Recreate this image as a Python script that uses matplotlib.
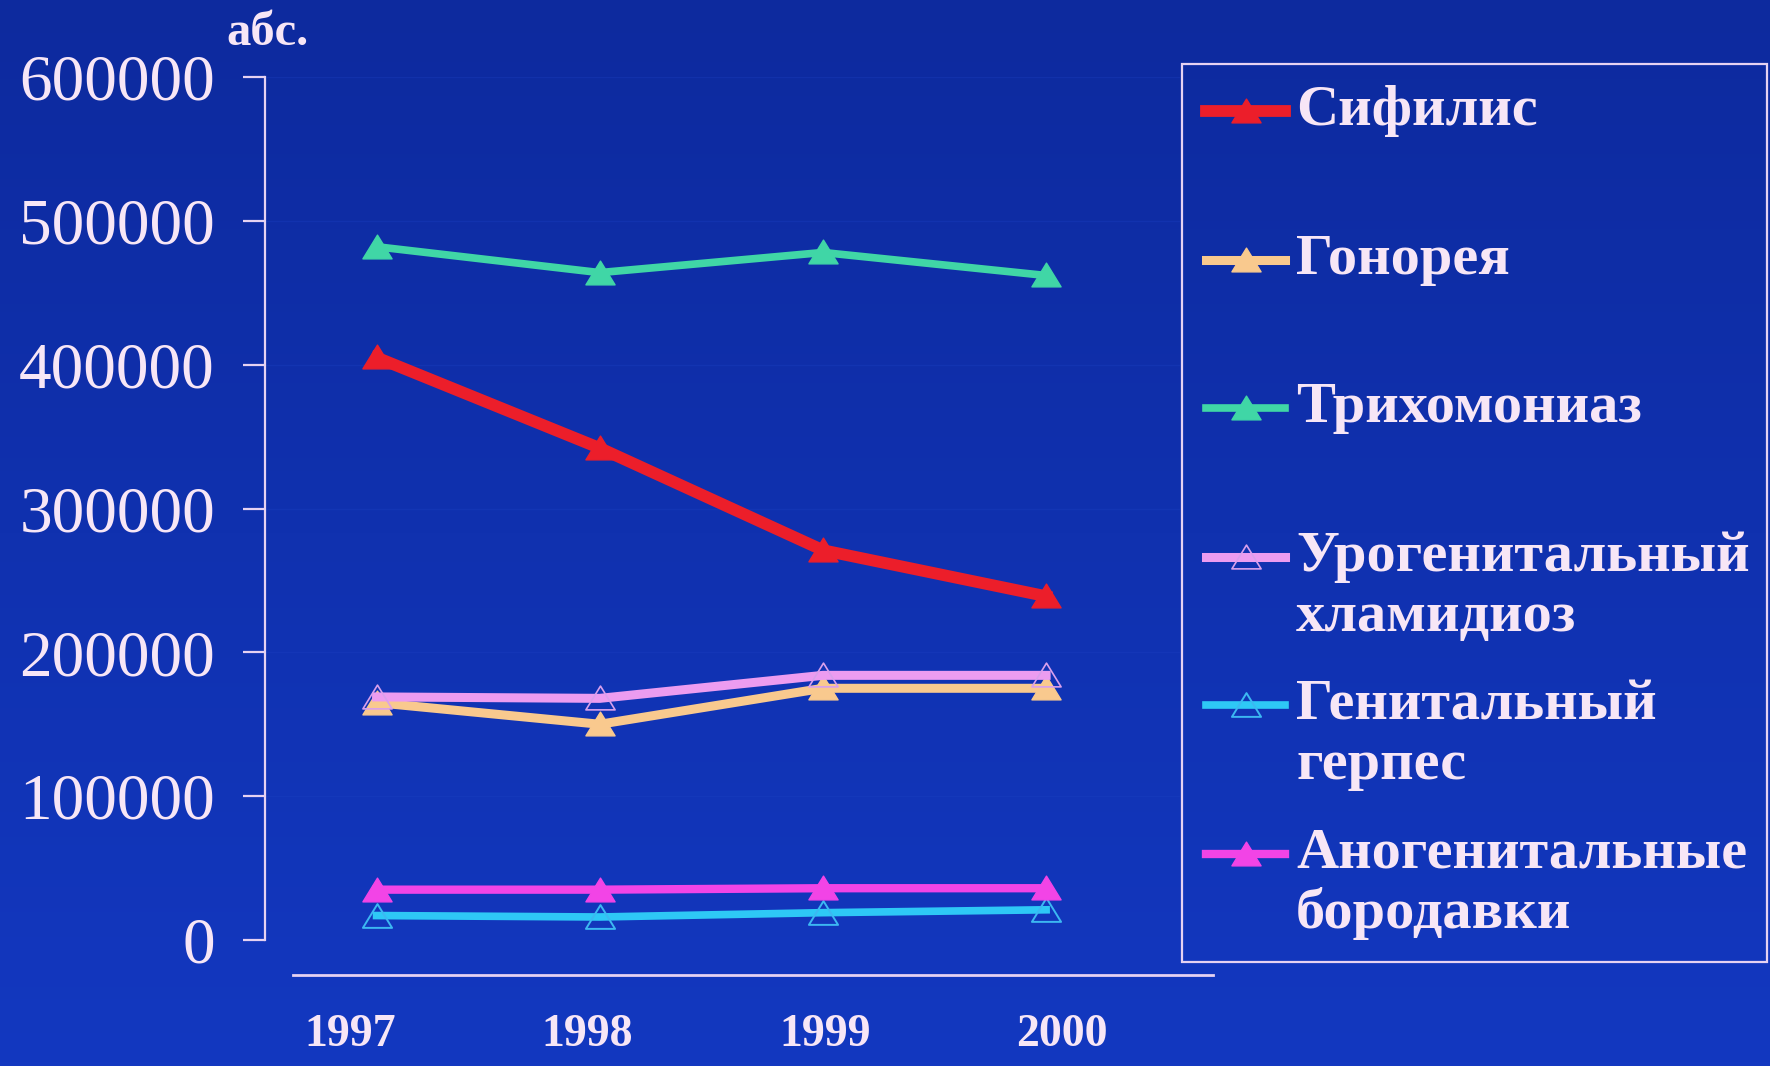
import numpy as np
import matplotlib
matplotlib.use("Agg")
import matplotlib.pyplot as plt
from matplotlib.colors import LinearSegmentedColormap
from matplotlib.lines import Line2D
from matplotlib.patches import Rectangle
from matplotlib.path import Path

# --- data -------------------------------------------------------------
years = [1997, 1998, 1999, 2000]
series_names = [
    "Сифилис",
    "Гонорея",
    "Трихомониаз",
    "Урогенитальный\nхламидиоз",
    "Генитальный\nгерпес",
    "Аногенитальные\nбородавки",
]
syphilis = [405000, 342000, 271000, 239000]
gonorrhea = [165000, 150000, 175000, 175000]
trichomoniasis = [482000, 464000, 478000, 462000]
chlamydia = [169000, 168000, 184000, 184000]
herpes = [17000, 16000, 19000, 21000]
warts = [35000, 35000, 36000, 36000]
y_ticks = [0, 100000, 200000, 300000, 400000, 500000, 600000]
y_unit = "абс."

# --- styles -----------------------------------------------------------
W, H = 1770, 1066
TXT = "#F7E6F6"
AXC = "#E6D2F2"
SERIF = ["Liberation Serif", "DejaVu Serif"]

# slightly flattened triangle, closed so open markers draw a full outline
tri = Path([(-1.0, -0.78), (1.0, -0.78), (0.0, 0.85), (-1.0, -0.78)],
           [Path.MOVETO, Path.LINETO, Path.LINETO, Path.CLOSEPOLY])
styles = [
    dict(color="#EC1E2A", lw=8.5, mfc="#EC1E2A", mec="#EC1E2A", ms=21),
    dict(color="#F9C98E", lw=6.5, mfc="#F9C98E", mec="#F9C98E", ms=21),
    dict(color="#40D6A6", lw=5.5, mfc="#40D6A6", mec="#40D6A6", ms=21),
    dict(color="#EC9CF0", lw=6.5, mfc="none", mec="#D9A0EC", ms=21, mew=1.2),
    dict(color="#2EC8F6", lw=5.5, mfc="none", mec="#3CB8F2", ms=21, mew=1.4),
    dict(color="#F244E6", lw=6.0, mfc="#F244E6", mec="#F244E6", ms=21),
]
values = [syphilis, gonorrhea, trichomoniasis, chlamydia, herpes, warts]
draw_order = [4, 5, 1, 3, 2, 0]

fig = plt.figure(figsize=(W / 100, H / 100), dpi=100)

# slide background with a soft vertical gradient
bg = fig.add_axes([0, 0, 1, 1], zorder=-10)
grad = np.linspace(0, 1, 256).reshape(-1, 1)
cmap = LinearSegmentedColormap.from_list("slide", ["#0D2A9E", "#1338C0"])
bg.imshow(grad, aspect="auto", cmap=cmap, extent=[0, 1, 0, 1], origin="upper")
bg.axis("off")


def px(x0, y0, x1, y1):
    """Figure-fraction rectangle from pixel corners (top-left origin)."""
    return [x0 / W, 1 - y1 / H, (x1 - x0) / W, (y1 - y0) / H]


# --- main plot --------------------------------------------------------
ax = fig.add_axes(px(265, 77, 1180, 940))
ax.set_facecolor("none")
ax.set_ylim(0, 600000)
ax.set_xlim(1996.5, 2000.6)

for k in draw_order:
    st = styles[k]
    ax.plot(years, values[k], color=st["color"], lw=st["lw"], marker=tri,
            ms=st["ms"], mfc=st["mfc"], mec=st["mec"],
            mew=st.get("mew", 1.0), solid_joinstyle="round", zorder=3 + k)

for s in ["top", "right", "bottom"]:
    ax.spines[s].set_visible(False)
ax.spines["left"].set_color(AXC)
ax.spines["left"].set_linewidth(1.6)
ax.set_xticks([])
ax.set_yticks(y_ticks)
ax.set_yticklabels([str(v) for v in y_ticks])
ax.tick_params(axis="y", length=16, width=1.6, color=AXC, pad=20,
               labelsize=47, labelcolor=TXT)
for t in ax.get_yticklabels():
    t.set_fontfamily(SERIF)
ax.grid(axis="y", color="#1E42C4", lw=1.0, alpha=0.3)

fig.text(268 / W, 1 - 33 / H, y_unit, ha="center", va="center",
         color=TXT, fontsize=35, fontweight="bold", family=SERIF)

# --- category axis ----------------------------------------------------
axx = fig.add_axes(px(293, 960, 1213, 975))
axx.set_facecolor("none")
axx.set_xlim(1996.76, 2000.636)
axx.set_ylim(0, 1)
for s in ["top", "right", "left"]:
    axx.spines[s].set_visible(False)
axx.spines["bottom"].set_color(AXC)
axx.spines["bottom"].set_linewidth(2.0)
axx.set_yticks([])
axx.set_xticks(years)
axx.set_xticklabels([str(y) for y in years])
axx.tick_params(axis="x", length=0, pad=28, labelsize=33, labelcolor=TXT)
for t in axx.get_xticklabels():
    t.set_fontfamily(SERIF)
    t.set_fontweight("bold")

# --- legend -----------------------------------------------------------
lx0, ly0, lx1, ly1 = 1182, 64, 1767, 962
lax = fig.add_axes(px(lx0, ly0, lx1, ly1))
lax.set_xlim(0, lx1 - lx0)
lax.set_ylim(ly1 - ly0, 0)
lax.axis("off")
lax.add_patch(Rectangle((0, 0), lx1 - lx0, ly1 - ly0, fill=False,
                        ec=AXC, lw=1.6, clip_on=False))
row0, step, line_gap = 47, 148.6, 60
for i, name in enumerate(series_names):
    st = styles[i]
    yy = row0 + i * step
    lax.add_line(Line2D([24, 103], [yy, yy], color=st["color"], lw=st["lw"]))
    lax.add_line(Line2D([63.5], [yy], marker=tri, ms=st["ms"], mfc=st["mfc"],
                        mec=st["mec"], mew=st.get("mew", 1.0), ls="none"))
    for j, part in enumerate(name.split("\n")):
        lax.text(114, yy + j * line_gap, part, ha="left", va="center",
                 color=TXT, fontsize=42, fontweight="bold", family=SERIF)

fig.savefig("out.png", dpi=100)
